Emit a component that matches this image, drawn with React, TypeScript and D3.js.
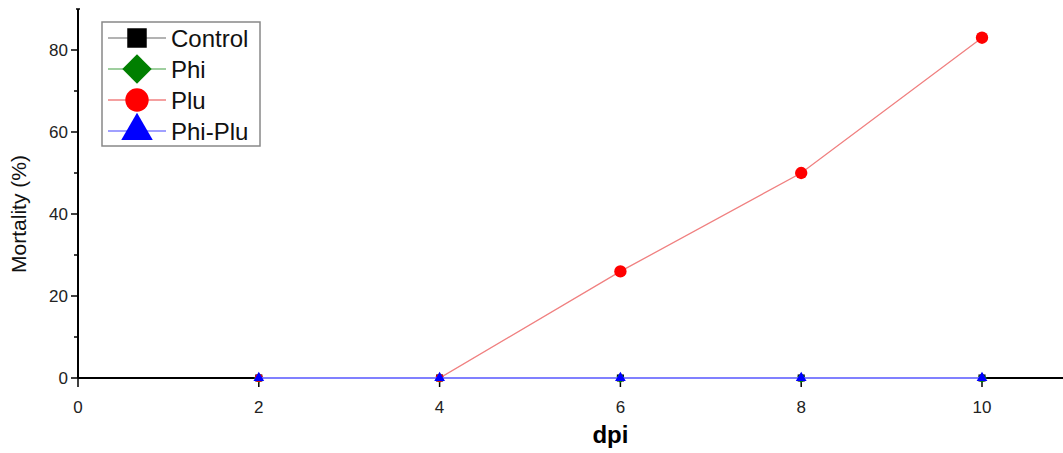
import React from 'react';
import * as d3 from 'd3';

// dpi (days post inoculation)
const days = [2, 4, 6, 8, 10];
const seriesNames = ['Control', 'Phi', 'Plu', 'Phi-Plu'];
const controlValues = [0, 0, 0, 0, 0];
const phiValues = [0, 0, 0, 0, 0];
const pluValues = [0, 0, 26, 50, 83];
const phiPluValues = [0, 0, 0, 0, 0];
const xTicks = [0, 2, 4, 6, 8, 10];
const yTicks = [0, 20, 40, 60, 80];
const yMinorTicks = [10, 30, 50, 70];

const colors = ['#000000', '#007f00', '#ff0000', '#0000ff'];
const lineColors = ['#9a9a9a', '#7fbf7f', '#f08080', '#8080ff'];
const shapes = [d3.symbolSquare, d3.symbolSquare, d3.symbolCircle, d3.symbolTriangle];
const rotations = [0, 45, 0, 0];

const W = 1063;
const H = 453;
const margin = { left: 78 };

export default function App() {
  const x = d3.scaleLinear().domain([0, 10.9]).range([margin.left, margin.left + 90.4 * 10.9]);
  const y = d3.scaleLinear().domain([0, 90]).range([378, 378 - 90 * 4.1]);
  const all = [controlValues, phiValues, pluValues, phiPluValues];
  const line = d3.line<number>().x((_, i) => x(days[i])).y(d => y(d));
  const font = 'Arial, "Liberation Sans", sans-serif';

  const sym = (k: number, size: number) => d3.symbol().type(shapes[k]).size(size)() || '';

  return (
    <svg width={W} height={H} style={{ position: 'absolute', left: 0, top: 0, background: '#fff' }}>
      {/* y axis */}
      <line x1={x(0)} x2={x(0)} y1={y(90)} y2={y(0)} stroke="#000" strokeWidth={2} />
      {yTicks.map(t => (
        <g key={'y' + t}>
          <line x1={x(0) - 7} x2={x(0)} y1={y(t)} y2={y(t)} stroke="#000" strokeWidth={1.5} />
          <text x={x(0) - 10} y={y(t)} dy="0.35em" textAnchor="end" fontSize={17} fontFamily={font} fill="#222">{t}</text>
        </g>
      ))}
      {yMinorTicks.map(t => (
        <line key={'ym' + t} x1={x(0) - 4} x2={x(0)} y1={y(t)} y2={y(t)} stroke="#000" strokeWidth={1.5} />
      ))}
      <line x1={x(0) - 2} x2={x(0) + 2} y1={y(90)} y2={y(90)} stroke="#000" strokeWidth={1.5} />
      {/* x axis */}
      <line x1={x(0)} x2={W} y1={y(0)} y2={y(0)} stroke="#000" strokeWidth={2} />
      {xTicks.map(t => (
        <g key={'x' + t}>
          <line x1={x(t)} x2={x(t)} y1={y(0)} y2={y(0) + 9} stroke="#000" strokeWidth={1.5} />
          <text x={x(t)} y={y(0) + 29} dy="0.35em" textAnchor="middle" fontSize={17} fontFamily={font} fill="#222">{t}</text>
        </g>
      ))}
      <text x={x(6) - 10} y={443} textAnchor="middle" fontSize={24} fontWeight="bold" fontFamily={font}>dpi</text>
      <text transform={`translate(26,${y(40)}) rotate(-90)`} textAnchor="middle" fontSize={21} fontFamily={font} fill="#111">Mortality (%)</text>

      {/* series */}
      {all.map((vals, k) => (
        <g key={'s' + k}>
          <path d={line(vals) || ''} fill="none" stroke={lineColors[k]} strokeWidth={k === 3 ? 2 : 1.3} />
          {vals.map((v, i) => (
            <path key={i} d={sym(k, v === 0 ? 50 : 120)} transform={`translate(${x(days[i])},${y(v)}) rotate(${rotations[k]})`} fill={colors[k]} />
          ))}
        </g>
      ))}

      {/* legend */}
      <rect x={102} y={22} width={158} height={124} fill="#fff" stroke="#888" strokeWidth={1.5} />
      {seriesNames.map((n, k) => {
        const cy = 38 + k * 31;
        return (
          <g key={'l' + n}>
            <line x1={108} x2={166} y1={cy} y2={cy} stroke={lineColors[k]} strokeWidth={1.5} />
            <path d={sym(k, k === 0 ? 380 : k === 1 ? 430 : 430)} transform={`translate(137,${cy}) rotate(${rotations[k]})`} fill={colors[k]} />
            <text x={171} y={cy} dy="0.36em" fontSize={24} fontFamily={font} fill="#111">{n}</text>
          </g>
        );
      })}
    </svg>
  );
}
